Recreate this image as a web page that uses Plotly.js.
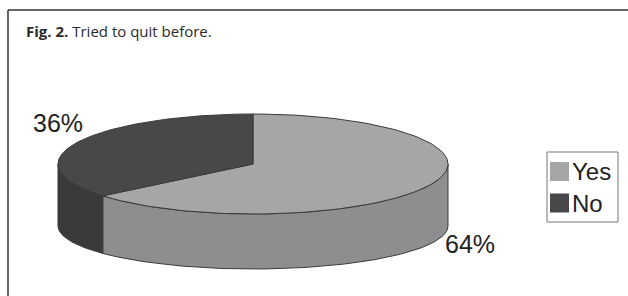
<!DOCTYPE html>
<html><head><meta charset="utf-8">
<script src="https://cdn.plot.ly/plotly-3.0.1.min.js"></script>
<style>html,body{margin:0;padding:0;background:#fff;} #chart{width:628px;height:296px;}</style>
</head><body><div id="chart"></div>
<script>
// ---- data ----
const categories = ["Yes", "No"];
const values = [64, 36];
const titleText = "<b>Fig. 2.</b> Tried to quit before.";

// ---- style ----
const topColors = ["#a6a6a8", "#48484a"];
const sideColors = ["#8e8e90", "#3a3a3c"];
const edge = "#3a3a3a";
const geo = {cx: 253, cy: 164, rx: 195, ry: 50, cyB: 226, ryB: 43};
const labelPos = [[470, 244], [58, 123]];

const total = values.reduce((a, b) => a + b, 0);
const rad = d => d * Math.PI / 180;
function arc(a0, a1, cy, ry, steps) {
  const xs = [], ys = [];
  for (let k = 0; k <= steps; k++) {
    const a = rad(a0 + (a1 - a0) * k / steps);
    xs.push(geo.cx + geo.rx * Math.cos(a));
    ys.push(cy - ry * Math.sin(a));
  }
  return [xs, ys];
}

const sideTraces = [], topTraces = [];
let cum = 0;
values.forEach((v, i) => {
  const a0 = 90 - cum / total * 360;
  const a1 = a0 - v / total * 360;
  cum += v;
  // top face
  const [tx, ty] = arc(a0, a1, geo.cy, geo.ry, 120);
  topTraces.push({
    type: "scatter", mode: "lines", fill: "toself",
    x: [geo.cx, ...tx, geo.cx], y: [geo.cy, ...ty, geo.cy],
    fillcolor: topColors[i], line: {color: edge, width: 1},
    name: categories[i], showlegend: false, hoverinfo: "skip"
  });
  // visible front side
  const lo = Math.min(a0, a1), hi = Math.max(a0, a1);
  for (let k = -2; k <= 1; k++) {
    const fl = Math.max(lo, -180 + 360 * k), fh = Math.min(hi, 360 * k);
    if (fh > fl) {
      const [ux, uy] = arc(fl, fh, geo.cy, geo.ry, 80);
      const [bx, by] = arc(fh, fl, geo.cyB, geo.ryB, 80);
      sideTraces.push({
        type: "scatter", mode: "lines", fill: "toself",
        x: [...ux, ...bx, ux[0]], y: [...uy, ...by, uy[0]],
        fillcolor: sideColors[i], line: {color: edge, width: 1},
        showlegend: false, hoverinfo: "skip"
      });
    }
  }
});

const annotations = [
  {x: 24, y: 31, xref: "x", yref: "y", xanchor: "left", yanchor: "middle", showarrow: false,
   text: titleText, font: {family: "Open Sans", size: 15, color: "#2a2a2a"}}
];
values.forEach((v, i) => {
  annotations.push({x: labelPos[i][0], y: labelPos[i][1], xref: "x", yref: "y", showarrow: false,
    text: v + "%", font: {family: "Liberation Sans", size: 25, color: "#222"}});
});

// legend (drawn)
const shapes = [
  {type: "line", xref: "x", yref: "y", x0: 8, x1: 8, y0: 10, y1: 296, line: {color: "#333", width: 1.5}},
  {type: "line", xref: "x", yref: "y", x0: 8, x1: 628, y0: 10, y1: 10, line: {color: "#333", width: 1.5}},
  {type: "rect", xref: "x", yref: "y", x0: 547, x1: 618, y0: 152, y1: 222, line: {color: "#777", width: 1}, fillcolor: "rgba(0,0,0,0)"}
];
categories.forEach((c, i) => {
  const y0 = 162 + i * 31.5;
  shapes.push({type: "rect", xref: "x", yref: "y", x0: 550, x1: 569, y0: y0, y1: y0 + 19,
    line: {width: 0}, fillcolor: topColors[i]});
  annotations.push({x: 570, y: y0 + 9.5, xref: "x", yref: "y", xanchor: "left", yanchor: "middle", showarrow: false,
    text: c, font: {family: "Liberation Sans", size: 24, color: "#222"}});
});

const layout = {
  width: 628, height: 296,
  margin: {l: 0, r: 0, t: 0, b: 0},
  paper_bgcolor: "#fff", plot_bgcolor: "#fff",
  xaxis: {range: [0, 628], visible: false, fixedrange: true},
  yaxis: {range: [296, 0], visible: false, fixedrange: true},
  showlegend: false,
  shapes: shapes,
  annotations: annotations
};

Plotly.newPlot("chart", [...sideTraces, ...topTraces], layout, {staticPlot: true});
</script>
</body></html>
